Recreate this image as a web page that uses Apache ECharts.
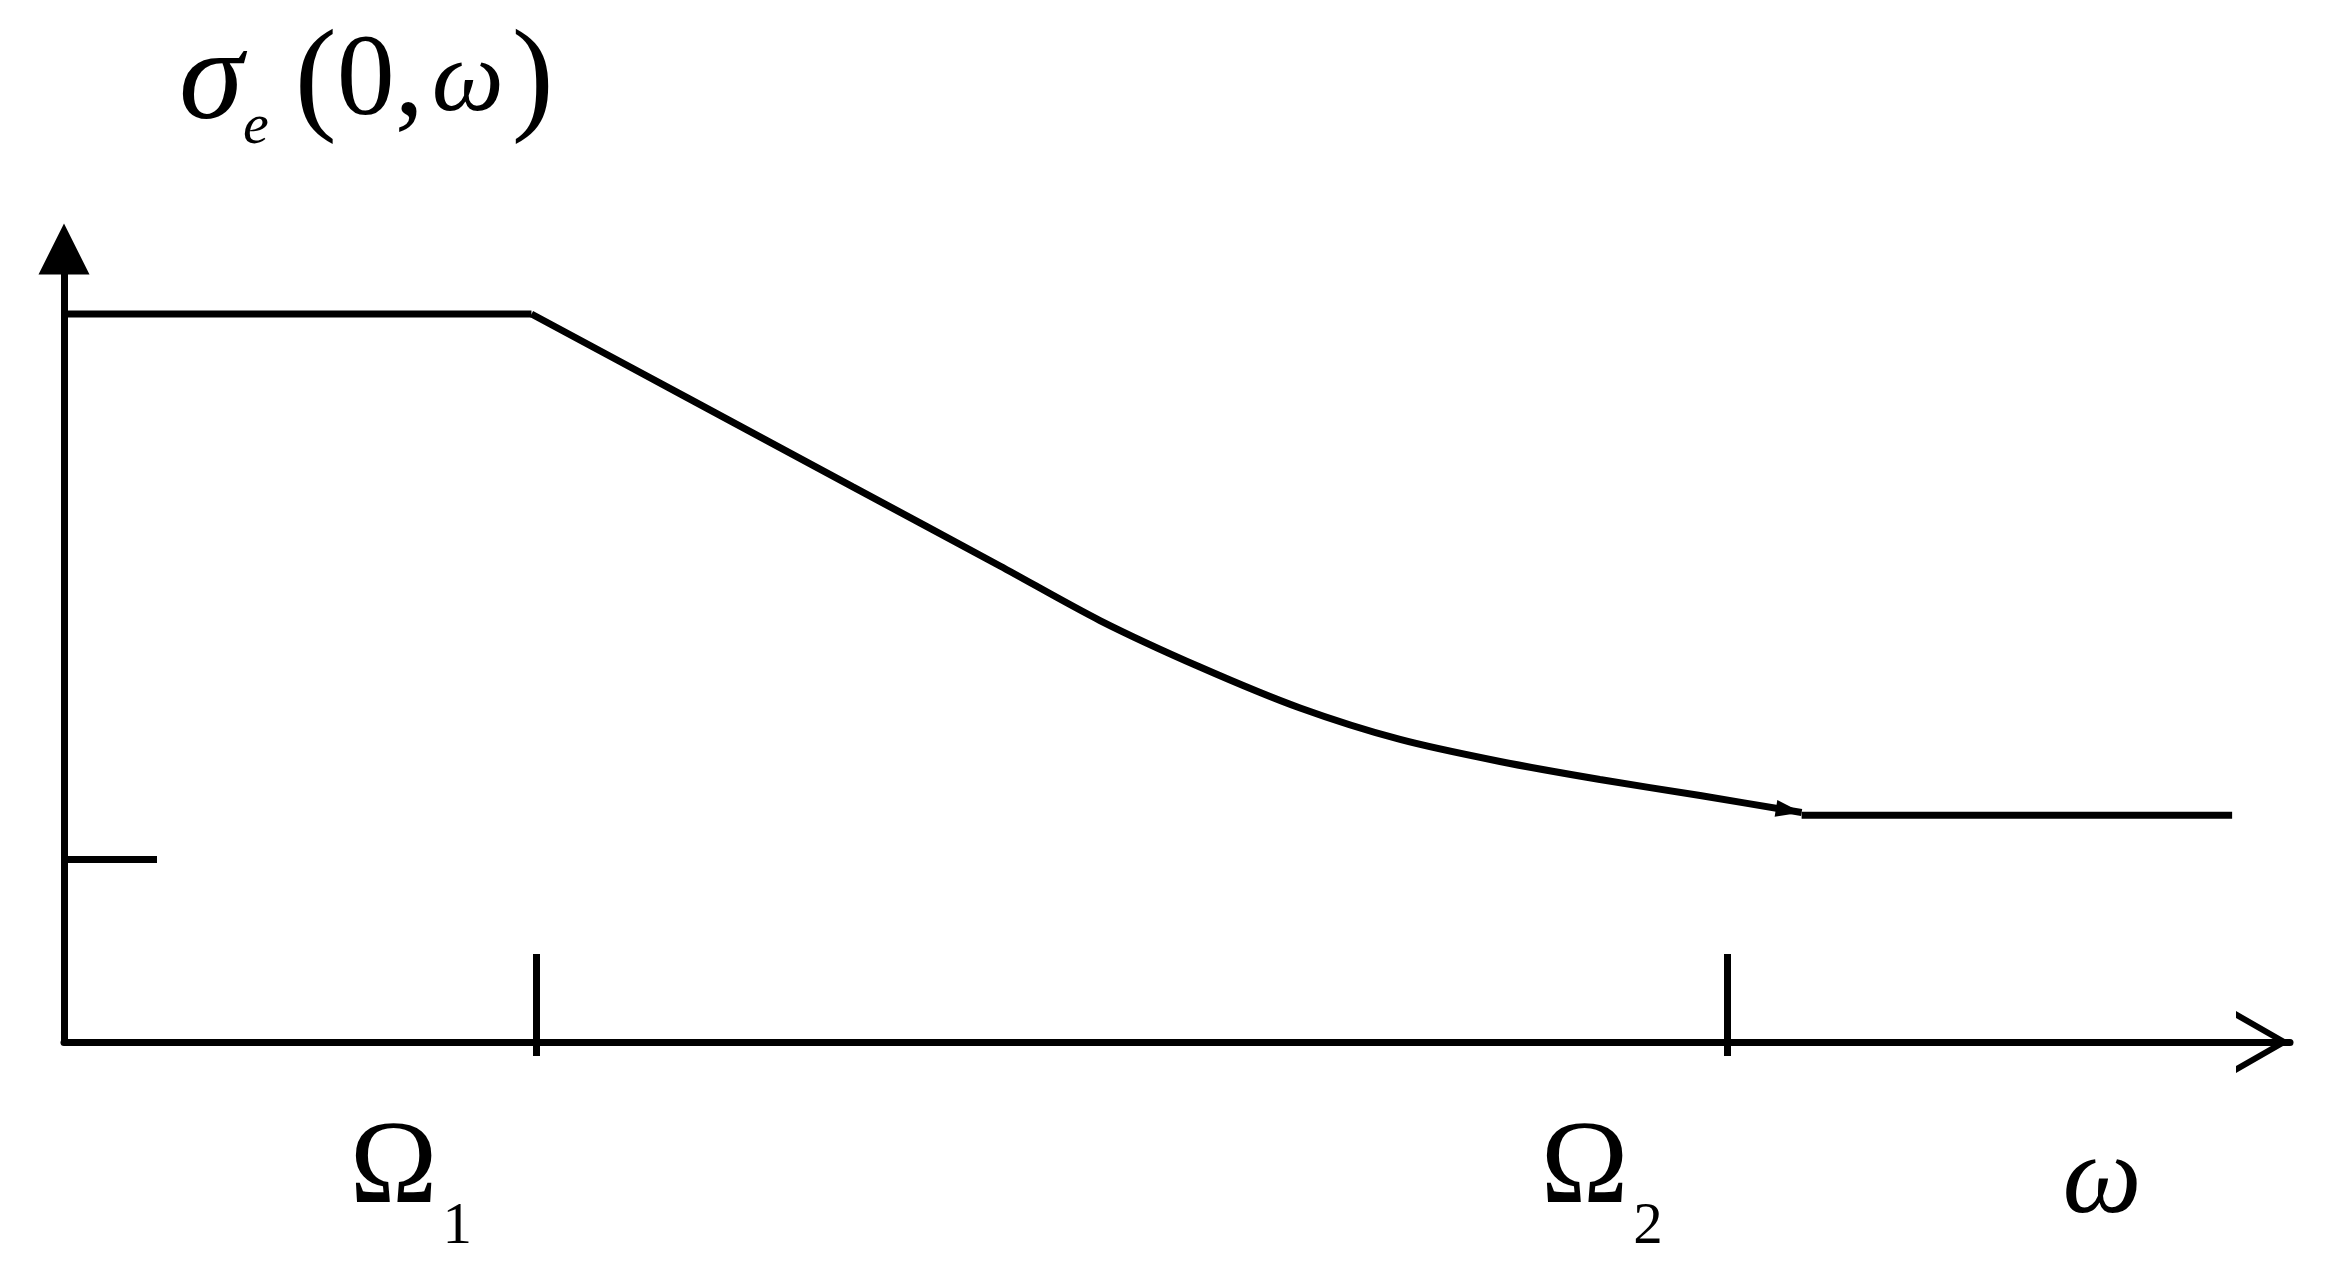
<!DOCTYPE html>
<html>
<head>
<meta charset="utf-8">
<script src="https://cdn.jsdelivr.net/npm/echarts@6/dist/echarts.min.js"></script>
<style>
html, body { margin: 0; padding: 0; background: #fff; }
#chart { width: 2325px; height: 1274px; }
</style>
</head>
<body>
<div id="chart"></div>
<script>
// plateau before Ω1
const plateauX = [0, 21.0];
const plateauY = [91.8, 91.8];
// falling part between Ω1 and Ω2
const curveX = [21.0, 27.97, 35.44, 42.05, 46.54, 51.03, 55.53, 60.02, 64.51, 69.00, 73.50, 78.06];
const curveY = [91.8, 81.29, 70.00, 60.03, 53.15, 47.29, 42.12, 38.15, 35.37, 33.10, 31.08, 28.94];
// plateau after Ω2
const tailX = [78.06, 97.4];
const tailY = [28.6, 28.6];
// ticks on the axes
const omegaTicks = [21.2, 74.7];
const omegaSubs = ['1', '2'];
const sigmaTicks = [23.1];

const FONT = 'Liberation Serif';
const LW = 7;

function zip(xs, ys) {
    return xs.map(function (x, i) { return [x, ys[i]]; });
}

const curveData = zip(curveX, curveY);
// small arrow head at the end of the curve
const last = curveData.length - 1;
curveData[last] = {
    value: curveData[last],
    symbol: 'triangle',
    symbolSize: [17, 26],
    symbolRotate: -99,
    symbolOffset: [-12.8, -2]
};

const chart = echarts.init(document.getElementById('chart'));

const option = {
    animation: false,
    backgroundColor: '#fff',
    grid: {
        left: 64,
        right: 35,
        top: 249,
        bottom: 232,
        containLabel: false,
        outerBoundsMode: 'none'
    },
    xAxis: [
        {
            type: 'value',
            min: 0,
            max: 100,
            name: 'ω',
            nameLocation: 'end',
            nameGap: -188,
            nameTextStyle: {
                fontFamily: FONT,
                fontStyle: 'italic',
                fontSize: 112,
                lineHeight: 125,
                color: '#000',
                align: 'center',
                verticalAlign: 'top',
                padding: [78, 0, 0, 0]
            },
            axisLine: {
                show: true,
                lineStyle: {color: '#000', width: LW},
                symbol: ['none', 'path://M31,0 L62,54 L55,54 L31,12 L7,54 L0,54 Z'],
                symbolSize: [62, 54],
                symbolOffset: [0, -27]
            },
            axisTick: {
                show: true,
                inside: true,
                length: 88,
                customValues: omegaTicks,
                lineStyle: {color: '#000', width: LW}
            },
            axisLabel: {show: false},
            splitLine: {show: false}
        },
        {
            type: 'value',
            min: 0,
            max: 100,
            position: 'bottom',
            axisLine: {show: false},
            axisTick: {
                show: true,
                inside: false,
                length: 14,
                customValues: omegaTicks,
                lineStyle: {color: '#000', width: LW}
            },
            axisLabel: {
                show: true,
                customValues: omegaTicks,
                margin: 44,
                align: 'right',
                verticalAlign: 'top',
                padding: [0, 64, 0, 0],
                formatter: function (v) {
                    const i = omegaTicks.indexOf(v);
                    return '{o|Ω}{s|' + omegaSubs[i] + '}';
                },
                rich: {
                    o: {fontFamily: FONT, fontSize: 118, lineHeight: 171, color: '#000'},
                    s: {fontFamily: FONT, fontSize: 59, lineHeight: 59, verticalAlign: 'bottom', padding: [0, 0, 0, 5], color: '#000'}
                }
            },
            splitLine: {show: false}
        }
    ],
    yAxis: {
        type: 'value',
        min: 0,
        max: 100,
        name: '{i|σ}{sub|e}{p|(}{n|0}{c|,}{w|ω}{p|)}',
        nameLocation: 'end',
        nameGap: 92,
        nameTextStyle: {
            align: 'left',
            padding: [0, 0, 0, 115],
            rich: {
                i: {fontFamily: FONT, fontStyle: 'italic', fontSize: 130, lineHeight: 147, color: '#000'},
                sub: {fontFamily: FONT, fontStyle: 'italic', fontSize: 58, lineHeight: 58, verticalAlign: 'bottom', padding: [0, 26, 0, 0], color: '#000'},
                p: {fontFamily: FONT, fontSize: 126, lineHeight: 147, color: '#000'},
                n: {fontFamily: FONT, fontSize: 116, lineHeight: 147, color: '#000'},
                c: {fontFamily: FONT, fontSize: 116, lineHeight: 147, padding: [0, 8, 0, 0], color: '#000'},
                w: {fontFamily: FONT, fontStyle: 'italic', fontSize: 102, lineHeight: 147, padding: [0, 8, 0, 0], color: '#000'}
            }
        },
        axisLine: {
            show: true,
            lineStyle: {color: '#000', width: LW},
            symbol: ['none', 'triangle'],
            symbolSize: [51, 51]
        },
        axisTick: {
            show: true,
            inside: true,
            length: 93,
            customValues: sigmaTicks,
            lineStyle: {color: '#000', width: LW}
        },
        axisLabel: {show: false},
        splitLine: {show: false}
    },
    series: [
        {
            type: 'line',
            silent: true,
            symbol: 'none',
            data: zip(plateauX, plateauY),
            lineStyle: {color: '#000', width: LW}
        },
        {
            type: 'line',
            silent: true,
            symbol: 'none',
            showSymbol: true,
            smooth: 0.3,
            data: curveData,
            itemStyle: {color: '#000'},
            lineStyle: {color: '#000', width: LW}
        },
        {
            type: 'line',
            silent: true,
            symbol: 'none',
            data: zip(tailX, tailY),
            lineStyle: {color: '#000', width: LW}
        }
    ]
};

chart.setOption(option);
</script>
</body>
</html>
